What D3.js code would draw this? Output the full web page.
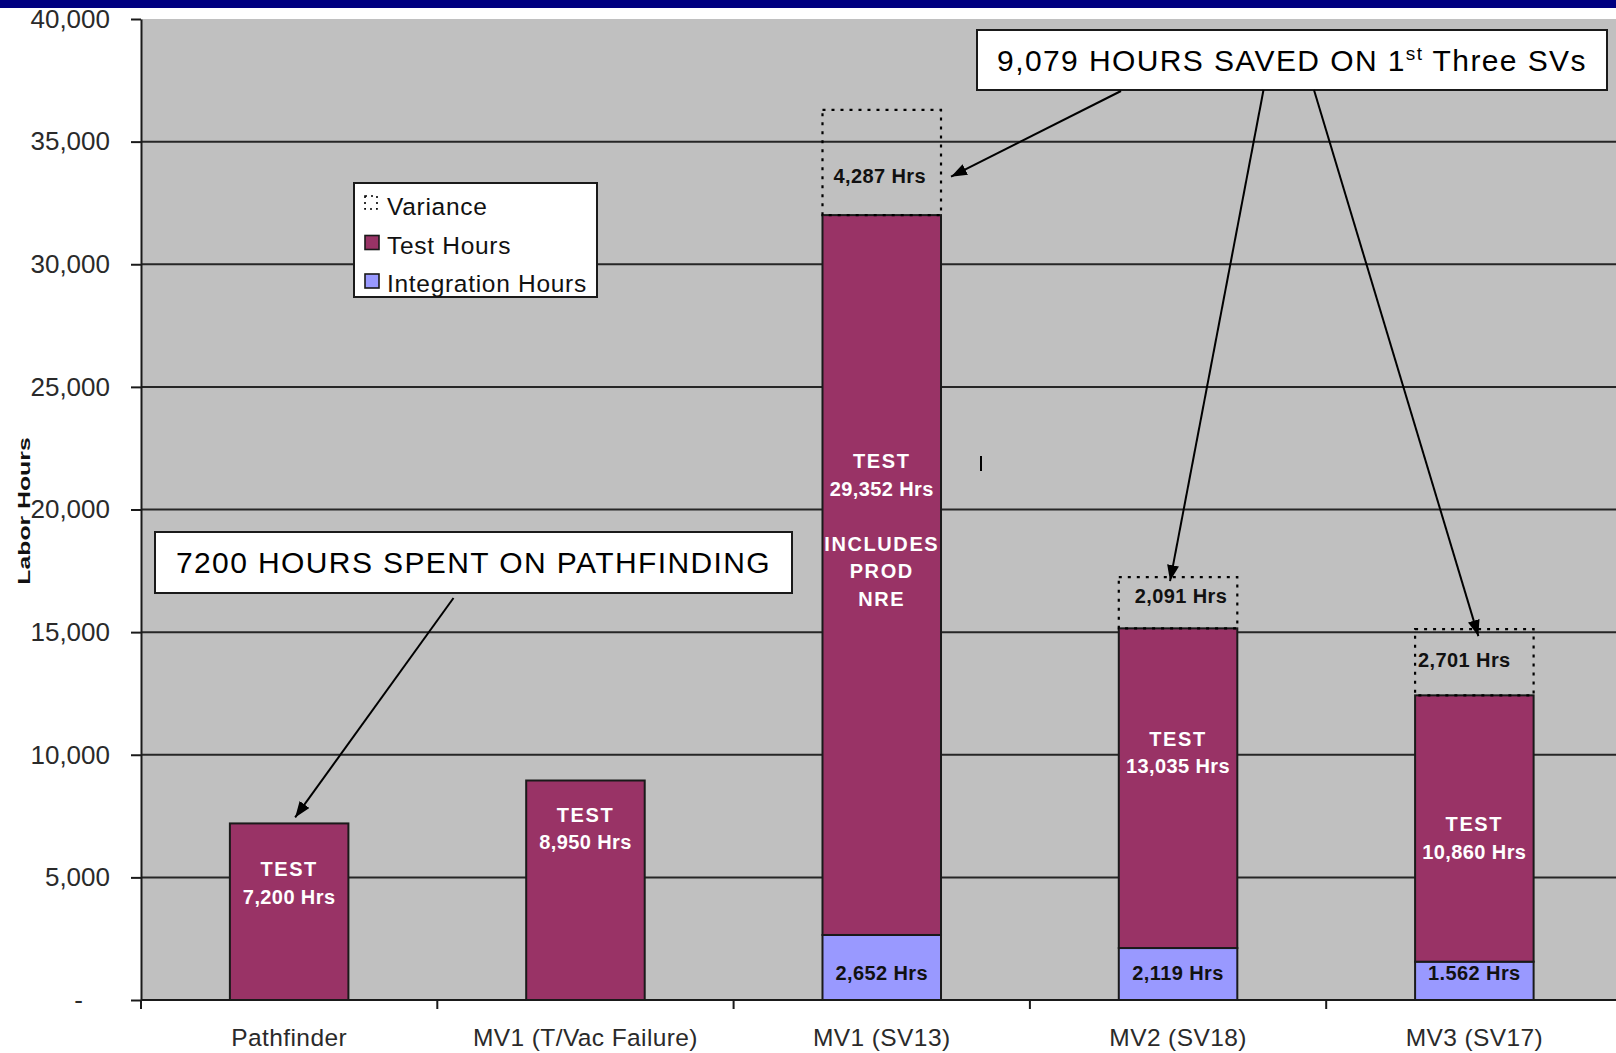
<!DOCTYPE html>
<html>
<head>
<meta charset="utf-8">
<script src="https://cdn.jsdelivr.net/npm/d3@7"></script>
<style>
	body { margin: 0; background: #fff; overflow: hidden; }
	svg { display: block; font-family: "Liberation Sans", Arial, sans-serif; }
</style>
</head>
<body>
<svg id="chart" width="1616" height="1053"></svg>
<script>
// chart data
const categories = ['Pathfinder', 'MV1 (T/Vac Failure)', 'MV1 (SV13)', 'MV2 (SV18)', 'MV3 (SV17)']
const integrationHours = [0, 0, 2652, 2119, 1562]
const testHours = [7200, 8950, 29352, 13035, 10860]
const varianceHours = [0, 0, 4287, 2091, 2701]
const yTicks = [0, 5000, 10000, 15000, 20000, 25000, 30000, 35000, 40000]

const testNotes = [
	['TEST', '7,200 Hrs'],
	['TEST', '8,950 Hrs'],
	['TEST', '29,352 Hrs', '', 'INCLUDES', 'PROD', 'NRE'],
	['TEST', '13,035 Hrs'],
	['TEST', '10,860 Hrs']
]
const integrationNotes = ['', '', '2,652 Hrs', '2,119 Hrs', '1.562 Hrs']
const varianceNotes = ['', '', '4,287 Hrs', '2,091 Hrs', '2,701 Hrs']
const legendItems = ['Variance', 'Test Hours', 'Integration Hours']

// where the labels sit, in hours (first baseline)
const testNoteAt = [5056, 7258, 21692, 10357, 6871]
const varianceNoteAt = [0, 0, 33325, 16200, 13590]
const varianceNoteDx = [0, 0, -2, 3, -10]

const W = 1616, H = 1053
const plot = {left: 141, right: 1622.5, top: 19, bottom: 1000}
const colors = {test: '#993366', integration: '#9999ff', plot: '#c0c0c0', ink: '#1a1a1a'}

const svg = d3.select('#chart')

const x = d3.scaleBand()
	.domain(categories)
	.range([plot.left, plot.right])
	.paddingInner(0.6)
	.paddingOuter(0.3)
const y = d3.scaleLinear()
	.domain([0, 40000])
	.range([plot.bottom, plot.top])

const table = categories.map((c, i) => ({
	cat: c,
	integration: integrationHours[i],
	test: testHours[i],
	variance: varianceHours[i]
}))
const stacked = d3.stack().keys(['integration', 'test', 'variance'])(table)

// navy strip on top of the slide
svg.append('rect')
	.attr('x', 0).attr('y', 0)
	.attr('width', W).attr('height', 8)
	.attr('fill', '#000080')

// plot area
svg.append('rect')
	.attr('x', plot.left).attr('y', plot.top)
	.attr('width', W - plot.left).attr('height', plot.bottom - plot.top)
	.attr('fill', colors.plot)

// gridlines
svg.append('g')
	.selectAll('line')
	.data(yTicks.filter(d => d > 0 && d < 40000))
	.join('line')
	.attr('x1', plot.left).attr('x2', W)
	.attr('y1', d => y(d)).attr('y2', d => y(d))
	.attr('stroke', '#262626')
	.attr('stroke-width', 2)

// y axis
const yAxis = svg.append('g')
	.attr('transform', `translate(${plot.left},0)`)
	.call(d3.axisLeft(y)
		.tickValues(yTicks)
		.tickSize(10)
		.tickSizeOuter(0)
		.tickPadding(21)
		.tickFormat(d => d === 0 ? '-' : d3.format(',')(d))
	)
yAxis.select('.domain').attr('stroke', colors.ink).attr('stroke-width', 2)
yAxis.selectAll('.tick line').attr('stroke', colors.ink).attr('stroke-width', 2)
yAxis.selectAll('.tick text')
	.attr('font-size', 26)
	.attr('font-family', '"Liberation Sans", Arial, sans-serif')
	.attr('fill', '#2a2a2a')
yAxis.selectAll('.tick text').filter(d => d === 0).attr('x', -58)

// y axis title, stretched like the original
svg.append('text')
	.attr('transform', 'translate(30,511) rotate(-90) scale(1.55,1)')
	.attr('text-anchor', 'middle')
	.attr('font-size', 16)
	.attr('font-weight', 'bold')
	.attr('fill', '#111')
	.text('Labor Hours')

// x axis
svg.append('line')
	.attr('x1', plot.left).attr('x2', W)
	.attr('y1', plot.bottom).attr('y2', plot.bottom)
	.attr('stroke', colors.ink).attr('stroke-width', 2)

const boundary = c => x(c) + x.bandwidth() / 2 - x.step() / 2
svg.append('g')
	.selectAll('line')
	.data(categories)
	.join('line')
	.attr('x1', boundary).attr('x2', boundary)
	.attr('y1', plot.bottom).attr('y2', plot.bottom + 9)
	.attr('stroke', colors.ink).attr('stroke-width', 2)

const xAxis = svg.append('g')
	.attr('transform', `translate(0,${plot.bottom})`)
	.call(d3.axisBottom(x).tickSize(0).tickPadding(29))
xAxis.select('.domain').remove()
xAxis.selectAll('.tick text')
	.attr('font-size', 24.5)
	.attr('font-family', '"Liberation Sans", Arial, sans-serif')
	.attr('letter-spacing', 0.4)
	.attr('fill', '#2a2a2a')

// bars
const bars = svg.append('g')
stacked.forEach(layer => {
	const key = layer.key
	const segs = layer.filter(d => d[1] - d[0] > 0)
	const r = bars.append('g')
		.selectAll('rect')
		.data(segs)
		.join('rect')
		.attr('x', d => x(d.data.cat))
		.attr('width', x.bandwidth())
		.attr('y', d => y(d[1]))
		.attr('height', d => y(d[0]) - y(d[1]))
	if (key === 'variance') {
		r.attr('fill', 'none')
			.attr('stroke', '#000')
			.attr('stroke-width', 2.2)
			.attr('stroke-dasharray', '3,6')
	} else {
		r.attr('fill', colors[key])
			.attr('stroke', colors.ink)
			.attr('stroke-width', 2)
	}
})

// labels inside bars
const noteFont = '"Liberation Sans", Arial, sans-serif'
categories.forEach((c, i) => {
	const cx = x(c) + x.bandwidth() / 2
	const t = svg.append('text')
		.attr('text-anchor', 'middle')
		.attr('font-family', noteFont)
		.attr('font-weight', 'bold')
		.attr('font-size', 20)
		.attr('letter-spacing', 0.4)
		.attr('fill', '#fff')
	testNotes[i].forEach((line, k) => {
		t.append('tspan')
			.attr('x', cx)
			.attr('y', y(testNoteAt[i]) + k * 27.5)
			.attr('letter-spacing', line === line.toUpperCase() && !/\d/.test(line) ? 1.6 : 0.4)
			.text(line)
	})
	if (integrationNotes[i]) {
		svg.append('text')
			.attr('x', cx)
			.attr('y', y(0) - 20)
			.attr('text-anchor', 'middle')
			.attr('font-family', noteFont)
			.attr('font-weight', 'bold')
			.attr('font-size', 20)
			.attr('letter-spacing', 0.4)
			.attr('fill', '#111')
			.text(integrationNotes[i])
	}
	if (varianceNotes[i]) {
		svg.append('text')
			.attr('x', cx + varianceNoteDx[i])
			.attr('y', y(varianceNoteAt[i]))
			.attr('text-anchor', 'middle')
			.attr('font-family', noteFont)
			.attr('font-weight', 'bold')
			.attr('font-size', 20)
			.attr('letter-spacing', 0.4)
			.attr('fill', '#111')
			.text(varianceNotes[i])
	}
})

// legend
const legend = svg.append('g').attr('transform', 'translate(354,183)')
legend.append('rect')
	.attr('width', 243).attr('height', 114)
	.attr('fill', '#fff')
	.attr('stroke', colors.ink).attr('stroke-width', 2)
legendItems.forEach((name, i) => {
	const row = legend.append('g').attr('transform', `translate(0,${i * 38.5})`)
	if (i === 0) {
		row.append('rect')
			.attr('x', 11).attr('y', 13).attr('width', 12).attr('height', 13)
			.attr('fill', 'none')
			.attr('stroke', '#000').attr('stroke-width', 1.6)
			.attr('stroke-dasharray', '2,4')
	} else {
		row.append('rect')
			.attr('x', 11).attr('y', 14).attr('width', 14).attr('height', 14)
			.attr('fill', i === 1 ? colors.test : colors.integration)
			.attr('stroke', colors.ink).attr('stroke-width', 1.6)
	}
	row.append('text')
		.attr('x', 33).attr('y', 32)
		.attr('font-size', 24.5)
		.attr('letter-spacing', 0.7)
		.attr('fill', '#111')
		.text(name)
})

// arrow marker
svg.append('defs').append('marker')
	.attr('id', 'head')
	.attr('markerUnits', 'userSpaceOnUse')
	.attr('viewBox', '0 0 16 12')
	.attr('refX', 16).attr('refY', 6)
	.attr('markerWidth', 16).attr('markerHeight', 12)
	.attr('orient', 'auto')
	.append('path')
	.attr('d', 'M0,0L16,6L0,12Z')
	.attr('fill', '#000')

// callout boxes
function callout(bx, by, bw, bh, build) {
	svg.append('rect')
		.attr('x', bx).attr('y', by)
		.attr('width', bw).attr('height', bh)
		.attr('fill', '#fff')
		.attr('stroke', colors.ink).attr('stroke-width', 2)
	const t = svg.append('text')
		.attr('x', bx + bw / 2).attr('y', by + bh / 2 + 10.5)
		.attr('text-anchor', 'middle')
		.attr('font-size', 30)
		.attr('letter-spacing', 1.4)
		.attr('fill', '#000')
	build(t)
}

callout(155, 532, 637, 61, t => t.text('7200 HOURS SPENT ON PATHFINDING'))
callout(977, 30, 630, 60, t => {
	t.append('tspan').text('9,079 HOURS SAVED ON 1')
	t.append('tspan').attr('font-size', 19).attr('dy', -11).text('st')
	t.append('tspan').attr('dy', 11).text(' Three SVs')
})

// arrows
const bw = x.bandwidth()
const topOf = i => integrationHours[i] + testHours[i] + varianceHours[i]
const arrows = [
	{from: [453.5, 598], to: [x(categories[0]) + bw / 2 + 6, y(testHours[0]) - 6]},
	{from: [1121, 91], to: [x(categories[2]) + bw + 10, y(varianceNoteAt[2]) - 6]},
	{from: [1263.5, 90], to: [x(categories[3]) + bw / 2 - 8, y(topOf(3)) + 4]},
	{from: [1314, 90], to: [x(categories[4]) + bw / 2 + 4, y(topOf(4)) + 7]}
]
svg.append('g')
	.selectAll('line')
	.data(arrows)
	.join('line')
	.attr('x1', d => d.from[0]).attr('y1', d => d.from[1])
	.attr('x2', d => d.to[0]).attr('y2', d => d.to[1])
	.attr('stroke', '#000')
	.attr('stroke-width', 2)
	.attr('marker-end', 'url(#head)')

// stray text cursor left on the slide
svg.append('line')
	.attr('x1', 981).attr('x2', 981)
	.attr('y1', 456).attr('y2', 471)
	.attr('stroke', '#000').attr('stroke-width', 2)
</script>
</body>
</html>
